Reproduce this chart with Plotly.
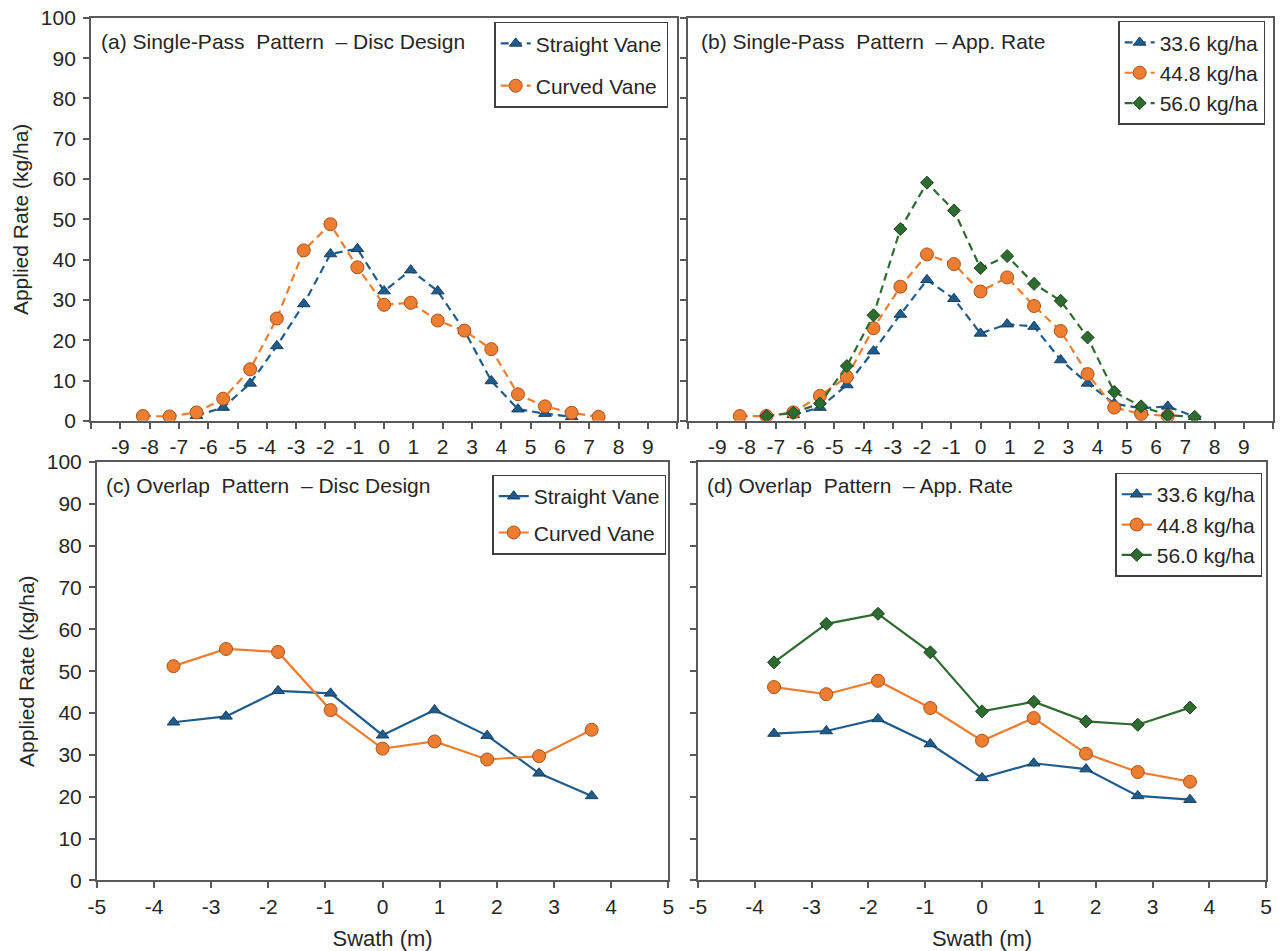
import plotly.graph_objects as go

# ---------------- data ----------------
# (a) single-pass, disc design
a_straight_x = [-6.40, -5.49, -4.57, -3.66, -2.74, -1.83, -0.91, 0.0, 0.91, 1.83, 2.74, 3.66, 4.57, 5.49, 6.40]
a_straight_y = [1.3, 3.3, 9.3, 18.6, 29.0, 41.4, 42.7, 32.2, 37.4, 32.2, 22.4, 9.9, 2.9, 1.8, 1.0]
a_curved_x = [-8.23, -7.32, -6.40, -5.49, -4.57, -3.66, -2.74, -1.83, -0.91, 0.0, 0.91, 1.83, 2.74, 3.66, 4.57, 5.49, 6.40, 7.32]
a_curved_y = [1.2, 1.1, 2.1, 5.5, 12.8, 25.4, 42.3, 48.8, 38.1, 28.8, 29.3, 24.9, 22.4, 17.8, 6.6, 3.6, 2.0, 1.0]

# (b) single-pass, application rate
b_336_x = [-6.40, -5.49, -4.57, -3.66, -2.74, -1.83, -0.91, 0.0, 0.91, 1.83, 2.74, 3.66, 4.57, 5.49, 6.40, 7.32]
b_336_y = [1.5, 3.3, 8.9, 17.3, 26.4, 35.0, 30.3, 21.7, 24.0, 23.4, 15.1, 9.3, 4.3, 3.1, 3.6, 1.0]
b_448_x = [-8.23, -7.32, -6.40, -5.49, -4.57, -3.66, -2.74, -1.83, -0.91, 0.0, 0.91, 1.83, 2.74, 3.66, 4.57, 5.49, 6.40]
b_448_y = [1.2, 1.2, 2.1, 6.2, 10.9, 23.0, 33.3, 41.3, 38.9, 32.1, 35.6, 28.5, 22.3, 11.6, 3.3, 1.7, 1.2]
b_560_x = [-7.32, -6.40, -5.49, -4.57, -3.66, -2.74, -1.83, -0.91, 0.0, 0.91, 1.83, 2.74, 3.66, 4.57, 5.49, 6.40, 7.32]
b_560_y = [1.2, 2.0, 4.3, 13.6, 26.2, 47.6, 59.1, 52.2, 37.9, 40.9, 34.0, 29.8, 20.7, 7.2, 3.6, 1.4, 1.0]

# (c), (d) overlap patterns
overlap_x = [-3.66, -2.74, -1.83, -0.91, 0.0, 0.91, 1.83, 2.74, 3.66]
c_straight_y = [37.8, 39.2, 45.3, 44.7, 34.7, 40.7, 34.6, 25.6, 20.2]
c_curved_y = [51.2, 55.3, 54.6, 40.7, 31.5, 33.2, 28.9, 29.7, 36.0]
d_336_y = [35.1, 35.7, 38.6, 32.6, 24.5, 28.0, 26.6, 20.2, 19.3]
d_448_y = [46.2, 44.5, 47.7, 41.2, 33.4, 38.8, 30.3, 25.9, 23.6]
d_560_y = [52.1, 61.3, 63.7, 54.5, 40.4, 42.7, 38.0, 37.2, 41.3]

top_tickvals = list(range(-10, 11))
top_ticktext = ["" if abs(v) == 10 else str(v) for v in top_tickvals]
bottom_tickvals = list(range(-5, 6))
y_tickvals = list(range(0, 101, 10))

panel_titles = ["(a) Single-Pass  Pattern  \u2013 Disc Design",
                "(b) Single-Pass  Pattern  \u2013 App. Rate",
                "(c) Overlap  Pattern  \u2013 Disc Design",
                "(d) Overlap  Pattern  \u2013 App. Rate"]

# ---------------- styles ----------------
BLUE = "#1F5C8C"
BLUE_EDGE = "#163F60"
ORANGE = "#ED7D31"
ORANGE_EDGE = "#A9541C"
GREEN = "#2E6B30"
GREEN_EDGE = "#1C451D"
FONT = "Liberation Sans, Arial, sans-serif"
AXCOL = "#595959"
TXT = "#262626"

W, H = 1286, 951
fig = go.Figure()

def px_x(a, b):
    return [a / W, b / W]

def px_y(top, bottom):
    return [1 - bottom / H, 1 - top / H]

def add(x, y, name, color, edge, symbol, size, dash, axis, legend):
    fig.add_trace(go.Scatter(
        x=x, y=y, name=name, mode="lines+markers",
        line=dict(color=color, width=2.2, dash=dash),
        marker=dict(symbol=symbol, size=size, color=color, line=dict(color=edge, width=1)),
        xaxis="x" + axis, yaxis="y" + axis, legend=legend, legendgroup=name + axis,
    ))

DASH = "8px,5px"
add(a_straight_x, a_straight_y, "Straight Vane", BLUE, BLUE_EDGE, "triangle-up", 11, DASH, "", "legend")
add(a_curved_x, a_curved_y, "Curved Vane", ORANGE, ORANGE_EDGE, "circle", 13, DASH, "", "legend")

add(b_336_x, b_336_y, "33.6 kg/ha", BLUE, BLUE_EDGE, "triangle-up", 11, DASH, "2", "legend2")
add(b_448_x, b_448_y, "44.8 kg/ha", ORANGE, ORANGE_EDGE, "circle", 13, DASH, "2", "legend2")
add(b_560_x, b_560_y, "56.0 kg/ha", GREEN, GREEN_EDGE, "diamond", 10, DASH, "2", "legend2")

add(overlap_x, c_straight_y, "Straight Vane", BLUE, BLUE_EDGE, "triangle-up", 11, "solid", "3", "legend3")
add(overlap_x, c_curved_y, "Curved Vane", ORANGE, ORANGE_EDGE, "circle", 13, "solid", "3", "legend3")

add(overlap_x, d_336_y, "33.6 kg/ha", BLUE, BLUE_EDGE, "triangle-up", 11, "solid", "4", "legend4")
add(overlap_x, d_448_y, "44.8 kg/ha", ORANGE, ORANGE_EDGE, "circle", 13, "solid", "4", "legend4")
add(overlap_x, d_560_y, "56.0 kg/ha", GREEN, GREEN_EDGE, "diamond", 10, "solid", "4", "legend4")

tickfont = dict(family=FONT, size=21, color=TXT)

def xax(domain, anchor, rng, tickvals, ticktext, title=None):
    d = dict(domain=domain, anchor=anchor, range=rng, tickvals=tickvals, ticktext=ticktext,
             showline=True, linecolor=AXCOL, linewidth=2, mirror=True, ticks="outside",
             ticklen=6, tickcolor=AXCOL, tickwidth=1.5, showgrid=False, zeroline=False,
             tickfont=tickfont)
    if title:
        d["title"] = dict(text=title, font=dict(family=FONT, size=22, color=TXT), standoff=14)
    return d

def yax(domain, anchor, labels, title=None):
    d = dict(domain=domain, anchor=anchor, range=[0, 100], tickvals=y_tickvals,
             showticklabels=labels, showline=True, linecolor=AXCOL, linewidth=2, mirror=True,
             ticks="outside", ticklen=6, tickcolor=AXCOL, tickwidth=1.5, showgrid=False,
             zeroline=False, tickfont=tickfont, ticklabelstandoff=3)
    if title:
        d["title"] = dict(text=title, font=dict(family=FONT, size=21, color=TXT), standoff=6)
    return d

TLX = px_x(83, 676)
TRX = px_x(687, 1279)
BLX = px_x(89, 667)
BRX = px_x(697, 1272)
TY = px_y(6, 419)
BY = px_y(461, 890)

def legend_box(xr, yt, gap):
    return dict(x=xr / W, y=1 - yt / H, xanchor="right", yanchor="top",
                bordercolor="#404040", borderwidth=1.5, bgcolor="white",
                font=dict(family=FONT, size=21, color=TXT),
                traceorder="grouped", tracegroupgap=gap, itemwidth=30)

fig.update_layout(
    width=W, height=H, margin=dict(l=0, r=0, t=0, b=0),
    paper_bgcolor="white", plot_bgcolor="white",
    xaxis=xax(TLX, "y", [-10, 10], top_tickvals, top_ticktext),
    yaxis=yax(TY, "x", True, "Applied Rate (kg/ha)"),
    xaxis2=xax(TRX, "y2", [-10, 10], top_tickvals, top_ticktext),
    yaxis2=yax(TY, "x2", False),
    xaxis3=xax(BLX, "y3", [-5, 5], bottom_tickvals, [str(v) for v in bottom_tickvals], "Swath (m)"),
    yaxis3=yax(BY, "x3", True, "Applied Rate (kg/ha)"),
    xaxis4=xax(BRX, "y4", [-5, 5], bottom_tickvals, [str(v) for v in bottom_tickvals], "Swath (m)"),
    yaxis4=yax(BY, "x4", False),
    legend=legend_box(667, 10, 12),
    legend2=legend_box(1271, 9, 0),
    legend3=legend_box(665, 474, 6),
    legend4=legend_box(1268, 472, 0),
    showlegend=True,
)

title_pos = [(91, 30), (698, 30), (96, 485), (704, 485)]
for t, (tx, ty) in zip(panel_titles, title_pos):
    fig.add_annotation(text=t, x=tx / W, y=1 - ty / H, xref="paper", yref="paper",
                       xanchor="left", yanchor="middle", showarrow=False,
                       font=dict(family=FONT, size=21, color=TXT))

fig.write_html("out.html")
